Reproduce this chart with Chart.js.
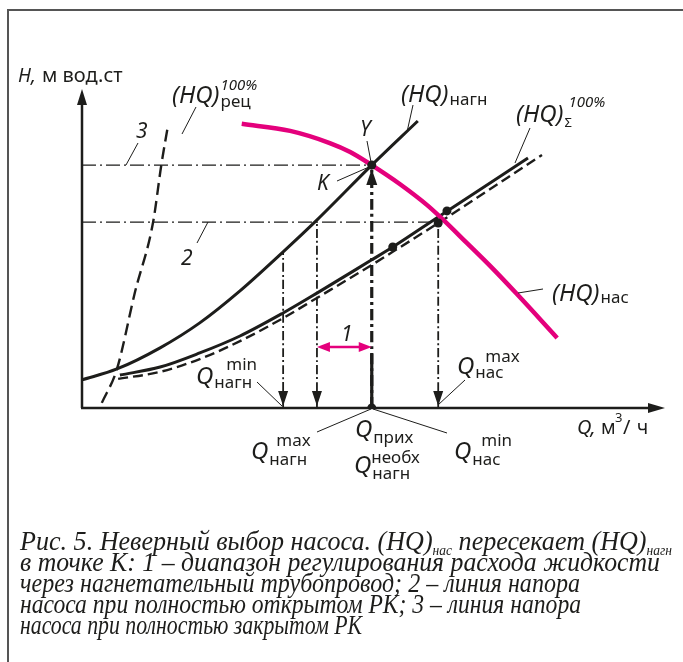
<!DOCTYPE html>
<html>
<head>
<meta charset="utf-8">
<script src="https://cdn.jsdelivr.net/npm/chart.js@4.4.0/dist/chart.umd.min.js"></script>
<style>
  html, body { margin: 0; padding: 0; background: #fff; }
  canvas { display: block; }
</style>
</head>
<body>
<canvas id="chart" width="683" height="662"></canvas>
<script>
// Характеристики (условные единицы: Q и H от 0 до 100)
const naghQ = [0, 6.0, 13.4, 20.2, 27.1, 34.5, 40.1, 49.7, 57.6];
const naghH = [8.8, 12.2, 18.8, 26.6, 36.6, 48.8, 58.4, 75.9, 89.7];

const sumQ = [6.5, 13.4, 20.2, 27.1, 34.5, 40.3, 49.7, 53.3, 61.1, 76.5];
const sumH = [10.3, 12.8, 17.2, 22.5, 29.7, 35.9, 46.3, 50.3, 59.7, 78.1];

const sumDashQ = [6.2, 13.4, 20.2, 27.1, 34.5, 40.3, 49.7, 53.3, 61.1, 78.9];
const sumDashH = [9.1, 11.3, 15.3, 20.9, 28.1, 34.4, 44.7, 48.8, 57.8, 79.1];

const pumpQ = [27.4, 35.7, 42.5, 46.0, 49.7, 54.5, 59.2, 61.8, 66.0, 70.0, 74.6, 81.5];
const pumpH = [88.8, 86.6, 82.8, 80.0, 75.9, 70.0, 63.4, 59.1, 51.6, 44.4, 35.6, 21.9];

const recQ = [3.4, 6.0, 9.1, 12.2, 13.6, 14.8];
const recH = [1.6, 12.2, 36.3, 58.1, 75.9, 88.8];

// линии напора 3 и 2
const headLevels = [75.9, 58.1];
const headEnds = [49.7, 61.1];
// Qнагн min, граница диапазона 1, Qприх, Qнас max
const flowMarks = [34.5, 40.3, 49.7, 61.1];
const flowTops = [48.8, 58.1, 75.9, 58.1];
const rangeH = 19.1;

const dotQ = [49.7, 49.7, 53.3, 61.1, 62.6];
const dotH = [75.9, 0, 50.3, 57.8, 61.6];

const BLACK = '#1d1d1b';
const MAG = '#e4007c';
const SANS = "'Noto Sans', sans-serif";
const SERIF = "'Liberation Serif', serif";

function pts(q, h) { return q.map((v, i) => ({ x: v, y: h[i] })); }

function line(data, opts) {
  return Object.assign({
    data, showLine: true, pointRadius: 0, borderColor: BLACK, borderWidth: 3,
    fill: false, cubicInterpolationMode: 'monotone', borderCapStyle: 'butt', order: 5
  }, opts);
}

function arrowHead(ctx, x, y, ang, len, hw, color) {
  ctx.save();
  ctx.translate(x, y);
  ctx.rotate(ang);
  ctx.beginPath();
  ctx.moveTo(0, 0);
  ctx.lineTo(-len, -hw);
  ctx.lineTo(-len, hw);
  ctx.closePath();
  ctx.fillStyle = color;
  ctx.fill();
  ctx.restore();
}

function stroke(ctx, x1, y1, x2, y2, w, color) {
  ctx.beginPath();
  ctx.moveTo(x1, y1);
  ctx.lineTo(x2, y2);
  ctx.lineWidth = w;
  ctx.strokeStyle = color || BLACK;
  ctx.setLineDash([]);
  ctx.stroke();
}

function txt(ctx, s, x, y, font) {
  ctx.font = font;
  ctx.fillText(s, x, y);
}

// обозначение с индексом: главный текст, нижний и верхний индексы
function label(ctx, main, x, y, mainFont, sub, subFont, subDy, sup, supFont, supDx, supDy) {
  ctx.font = mainFont;
  ctx.fillText(main, x, y);
  const w = ctx.measureText(main).width;
  if (sub) { ctx.font = subFont; ctx.fillText(sub, x + w + 1, y + subDy); }
  if (sup) { ctx.font = supFont; ctx.fillText(sup, x + w + supDx, y - supDy); }
}

// строка подписи, сжатая до заданной ширины
function fitLine(ctx, parts, x, y, width) {
  let total = 0;
  parts.forEach(p => { ctx.font = p.f; total += ctx.measureText(p.t).width; });
  const s = width / total;
  ctx.save();
  ctx.translate(x, y);
  ctx.scale(s, 1);
  let cx = 0;
  parts.forEach(p => {
    ctx.font = p.f;
    ctx.fillText(p.t, cx, p.dy || 0);
    cx += ctx.measureText(p.t).width;
  });
  ctx.restore();
}

const drawing = {
  id: 'drawing',
  beforeDraw(chart) {
    const ctx = chart.ctx;
    ctx.save();
    ctx.fillStyle = '#fff';
    ctx.fillRect(0, 0, chart.width, chart.height);
    // рамка
    stroke(ctx, 7, 10, 683, 10, 2, '#555');
    stroke(ctx, 8, 9, 8, 662, 2, '#555');
    // оси
    const a = chart.chartArea;
    stroke(ctx, a.left, a.bottom, a.left, a.top + 14, 2.5);
    arrowHead(ctx, a.left, a.top + 1, -Math.PI / 2, 16, 5, BLACK);
    stroke(ctx, a.left - 1, a.bottom, a.right - 14, a.bottom, 2.5);
    arrowHead(ctx, a.right, a.bottom, 0, 17, 5, BLACK);
    ctx.restore();
  },
  afterDatasetsDraw(chart) {
    const ctx = chart.ctx;
    const X = v => chart.scales.x.getPixelForValue(v);
    const Y = v => chart.scales.y.getPixelForValue(v);
    ctx.save();
    // сплошной низ линии Qприх
    stroke(ctx, X(flowMarks[2]), Y(0), X(flowMarks[2]), Y(17), 3.2);
    // стрелки на вертикалях
    [0, 1, 3].forEach(i => arrowHead(ctx, X(flowMarks[i]), Y(0) - 2, Math.PI / 2, 15, 5, BLACK));
    arrowHead(ctx, X(flowMarks[2]), Y(flowTops[2]) + 4, -Math.PI / 2, 16, 5.5, BLACK);
    // диапазон 1
    const ry = Y(rangeH);
    stroke(ctx, X(flowMarks[1]) + 8, ry, X(flowMarks[2]) - 8, ry, 2.5, MAG);
    arrowHead(ctx, X(flowMarks[1]), ry, Math.PI, 13, 5, MAG);
    arrowHead(ctx, X(flowMarks[2]), ry, 0, 13, 5, MAG);

    // выноски
    const leaders = [
      [126, 165, 138, 143], [182, 134, 196, 107], [197, 243, 208, 222],
      [407, 132, 413, 105], [367, 141, 371, 162], [337, 181, 369, 167],
      [515, 163, 530, 128], [518, 293, 543, 289], [257, 382, 282, 406],
      [465, 380, 438, 405], [317, 432, 371, 409], [373, 409, 447, 433]
    ];
    leaders.forEach(l => stroke(ctx, l[0], l[1], l[2], l[3], 1, BLACK));

    ctx.fillStyle = BLACK;
    ctx.textBaseline = 'alphabetic';
    const I = s => 'italic ' + s + 'px ' + SANS;
    const N = s => s + 'px ' + SANS;

    txt(ctx, 'H,', 18, 82, I(19));
    txt(ctx, 'м вод.ст', 42, 82, N(20));

    label(ctx, '(HQ)', 172, 103, I(24), 'рец', N(17), 4, '100%', I(15), 1, 13);
    label(ctx, '(HQ)', 401, 102, I(24), 'нагн', N(17), 3);
    label(ctx, '(HQ)', 516, 122, I(24), 'Σ', N(13), 5, '100%', I(15), 5, 15);
    label(ctx, '(HQ)', 552, 301, I(24), 'нас', N(17), 2);

    txt(ctx, '3', 136, 138, I(21));
    txt(ctx, '2', 181, 265, I(21));
    txt(ctx, 'Y', 360, 136, I(21));
    txt(ctx, 'K', 317, 190, I(21));
    txt(ctx, '1', 341, 341, I(21));

    label(ctx, 'Q', 196, 384, I(24), 'нагн', N(17), 4, 'min', N(17), 13, 14);
    label(ctx, 'Q', 457, 374, I(24), 'нас', N(17), 4, 'max', N(17), 11, 12);
    label(ctx, 'Q', 251, 459, I(24), 'нагн', N(17), 6, 'max', N(17), 8, 13);
    label(ctx, 'Q', 355, 437, I(24), 'прих', N(17), 6);
    label(ctx, 'Q', 354, 473, I(24), 'нагн', N(17), 6, 'необх', N(17), 0, 10);
    label(ctx, 'Q', 454, 459, I(24), 'нас', N(17), 6, 'min', N(17), 10, 13);

    txt(ctx, 'Q,', 577, 434, I(20));
    txt(ctx, 'м', 601, 434, N(19));
    txt(ctx, '3', 615, 422, N(13));
    txt(ctx, '/', 623, 434, N(20));
    txt(ctx, 'ч', 637, 434, N(19));

    // подпись к рисунку
    const cf = 'italic 27px ' + SERIF;
    const sf = 'italic 14px ' + SERIF;
    fitLine(ctx, [
      { t: 'Рис. 5. Неверный выбор насоса. (HQ)', f: cf },
      { t: 'нас', f: sf, dy: 5 },
      { t: ' пересекает (HQ)', f: cf },
      { t: 'нагн', f: sf, dy: 5 }
    ], 20, 550, 652);
    fitLine(ctx, [{ t: 'в точке K: 1 – диапазон регулирования расхода жидкости', f: cf }], 20, 571, 640);
    fitLine(ctx, [{ t: 'через нагнетательный трубопровод; 2 – линия напора', f: cf }], 20, 592, 560);
    fitLine(ctx, [{ t: 'насоса при полностью открытом РК; 3 – линия напора', f: cf }], 20, 613, 561);
    fitLine(ctx, [{ t: 'насоса при полностью закрытом РК', f: cf }], 20, 634, 342);
    ctx.restore();
  }
};

const dashDot = [14, 4, 2, 4];
const vDash = [9, 3, 2, 3];

new Chart(document.getElementById('chart'), {
  type: 'scatter',
  data: {
    datasets: [
      line(pts(pumpQ, pumpH), { borderColor: MAG, borderWidth: 4.5, order: 1 }),
      line(pts(naghQ, naghH), { order: 2 }),
      line(pts(sumQ, sumH), { order: 2 }),
      line(pts(sumDashQ, sumDashH), { borderWidth: 2.4, borderDash: [10, 5], order: 3 }),
      line(pts(recQ, recH), { borderWidth: 2.4, borderDash: [12, 6], order: 3 }),
      line([{ x: 0, y: headLevels[0] }, { x: headEnds[0], y: headLevels[0] }], { borderWidth: 1.3, borderDash: dashDot, order: 6 }),
      line([{ x: 0, y: headLevels[1] }, { x: headEnds[1], y: headLevels[1] }], { borderWidth: 1.3, borderDash: dashDot, order: 6 }),
      line([{ x: flowMarks[0], y: 0 }, { x: flowMarks[0], y: flowTops[0] }], { borderWidth: 1.8, borderDash: vDash, order: 6 }),
      line([{ x: flowMarks[1], y: 0 }, { x: flowMarks[1], y: flowTops[1] }], { borderWidth: 1.8, borderDash: vDash, order: 6 }),
      line([{ x: flowMarks[2], y: 0 }, { x: flowMarks[2], y: flowTops[2] }], { borderWidth: 3.2, borderDash: [11, 4, 3, 4], order: 6 }),
      line([{ x: flowMarks[3], y: 0 }, { x: flowMarks[3], y: flowTops[3] }], { borderWidth: 1.8, borderDash: vDash, order: 6 }),
      { data: pts(dotQ, dotH), showLine: false, pointRadius: 4.5, pointBackgroundColor: BLACK, pointBorderWidth: 0, order: 0 }
    ]
  },
  options: {
    responsive: false,
    animation: false,
    devicePixelRatio: 1,
    layout: { padding: { left: 82, right: 18, top: 88, bottom: 254 } },
    scales: {
      x: { type: 'linear', min: 0, max: 100, display: false },
      y: { type: 'linear', min: 0, max: 100, display: false }
    },
    plugins: { legend: { display: false }, tooltip: { enabled: false } }
  },
  plugins: [drawing]
});
</script>
</body>
</html>
